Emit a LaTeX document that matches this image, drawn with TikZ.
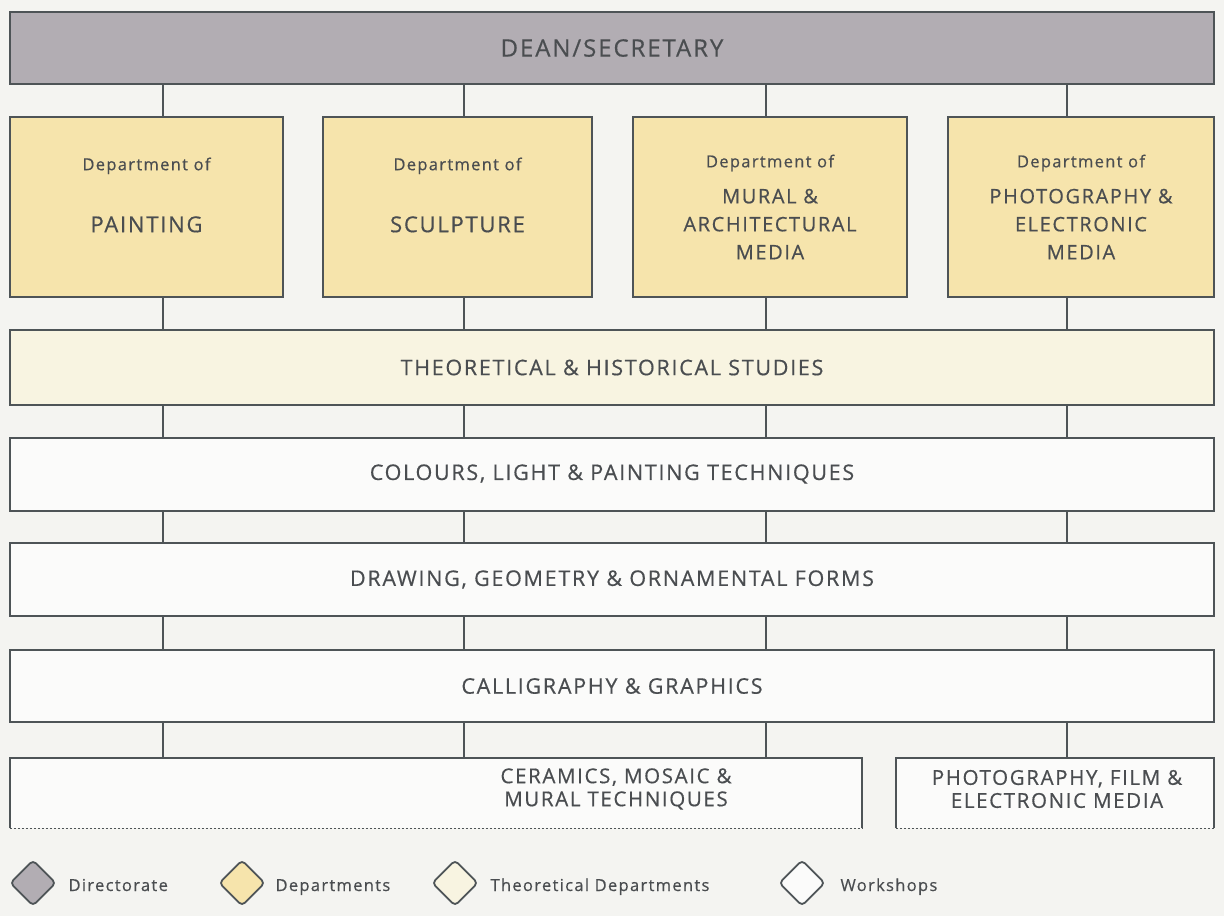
\documentclass[tikz,border=0pt]{standalone}
\usepackage{fontspec}
\setmainfont{Open Sans}[LetterSpace=8, FakeBold=0.5]
\usetikzlibrary{shapes.geometric}

\definecolor{paper}{HTML}{F4F4F1}
\definecolor{edge}{HTML}{4E5457}
\definecolor{ink}{HTML}{4A4D50}
\definecolor{deanfill}{HTML}{B2ADB3}
\definecolor{deptfill}{HTML}{F6E4AC}
\definecolor{theofill}{HTML}{F8F4E1}
\definecolor{shopfill}{HTML}{FBFBFA}

\newcommand{\ofsize}{\fontsize{16.5}{20}\selectfont}

\tikzset{
    box/.style={draw=edge, line width=2pt, rectangle, inner sep=0pt, text=ink,
        font=\fontsize{21.5}{25}\selectfont, align=center},
    dean/.style={box, fill=deanfill, minimum width=1204pt, minimum height=72pt,
        font=\fontsize{24}{28}\selectfont},
    dept/.style={box, fill=deptfill, minimum height=180pt},
    theory/.style={box, fill=theofill, minimum width=1204pt, minimum height=75pt},
    shop/.style={box, fill=shopfill, minimum width=1204pt, minimum height=73pt},
    stub/.style={rectangle, inner sep=0pt, fill=shopfill},
    deptname/.style={text=ink, align=center, inner sep=0pt, font=\fontsize{22}{26}\selectfont},
    link/.style={draw=edge, line width=1.8pt},
    key/.style={diamond, draw=edge, line width=1.8pt, rounded corners=4pt,
        minimum width=46pt, minimum height=46pt, inner sep=0pt},
    keytext/.style={anchor=base west, text=ink, font=\fontsize{16.5}{19}\selectfont}
}

\begin{document}
\begin{tikzpicture}[x=1pt, y=-1pt]
    \fill[paper] (0,0) rectangle (1224,916);

    \node[dean] (dean) at (612,48) {DEAN/SECRETARY};

    \node[dept, minimum width=273pt] (paint) at (146.5,207) {};
    \node[dept, minimum width=269pt] (sculpt) at (457.5,207) {};
    \node[dept, minimum width=274pt] (mural) at (770,207) {};
    \node[dept, minimum width=266pt] (photo) at (1081,207) {};
    \node[deptname] (paintname) at ([yshift=12pt]paint.center)
        {{\ofsize Department of}\\[36pt]PAINTING};
    \node[deptname] (sculptname) at ([yshift=12pt]sculpt.center)
        {{\ofsize Department of}\\[36pt]SCULPTURE};
    \node[deptname, font=\fontsize{20}{28}\selectfont] (muralname) at (mural.center)
        {{\ofsize Department of}\\[8pt]MURAL \&\\ARCHITECTURAL\\MEDIA};
    \node[deptname, font=\fontsize{20}{28}\selectfont] (photoname) at (photo.center)
        {{\ofsize Department of}\\[8pt]PHOTOGRAPHY \&\\ELECTRONIC\\MEDIA};

    \node[theory] (theo) at (612,367.5) {THEORETICAL \& HISTORICAL STUDIES};
    \node[shop] (colour) at (612,474) {COLOURS, LIGHT \& PAINTING TECHNIQUES};
    \node[shop] (drawing) at (612,579.5) {DRAWING, GEOMETRY \& ORNAMENTAL FORMS};
    \node[shop, minimum height=72pt] (calli) at (612,686) {CALLIGRAPHY \& GRAPHICS};

    % open boxes at the foot
    \node[stub, minimum width=852pt, minimum height=70pt] (ceram) at (436,793) {};
    \node[stub, minimum width=318pt, minimum height=70pt] (film) at (1055,793) {};
    \draw[link, line width=2pt] (ceram.south west) -- (ceram.north west) -- (ceram.north east) -- (ceram.south east);
    \draw[link, line width=2pt] (film.south west) -- (film.north west) -- (film.north east) -- (film.south east);
    \draw[edge, line width=1pt, dash pattern=on 2pt off 2pt] (ceram.south west) -- (ceram.south east);
    \draw[edge, line width=1pt, dash pattern=on 2pt off 2pt] (film.south west) -- (film.south east);
    \node[deptname, font=\fontsize{20.5}{23}\selectfont] (ceramname) at (616,789)
        {CERAMICS, MOSAIC \&\\MURAL TECHNIQUES};
    \node[deptname, font=\fontsize{20.5}{23}\selectfont] (filmname) at (1057,789)
        {PHOTOGRAPHY, FILM \&\\ELECTRONIC MEDIA};

    % vertical links
    \coordinate (c1) at (163,0);
    \coordinate (c2) at (464,0);
    \coordinate (c3) at (766,0);
    \coordinate (c4) at (1067,0);
    \draw[link] (dean.south -| c1) -- (paint.north -| c1);
    \draw[link] (dean.south -| c2) -- (sculpt.north -| c2);
    \draw[link] (dean.south -| c3) -- (mural.north -| c3);
    \draw[link] (dean.south -| c4) -- (photo.north -| c4);
    \draw[link] (paint.south -| c1) -- (theo.north -| c1);
    \draw[link] (sculpt.south -| c2) -- (theo.north -| c2);
    \draw[link] (mural.south -| c3) -- (theo.north -| c3);
    \draw[link] (photo.south -| c4) -- (theo.north -| c4);
    \foreach \c in {c1,c2,c3,c4} {
        \draw[link] (theo.south -| \c) -- (colour.north -| \c);
        \draw[link] (colour.south -| \c) -- (drawing.north -| \c);
        \draw[link] (drawing.south -| \c) -- (calli.north -| \c);
    }
    \draw[link] (calli.south -| c1) -- (ceram.north -| c1);
    \draw[link] (calli.south -| c2) -- (ceram.north -| c2);
    \draw[link] (calli.south -| c3) -- (ceram.north -| c3);
    \draw[link] (calli.south -| c4) -- (film.north -| c4);

    % legend
    \node[key, fill=deanfill] (k1) at (33,883) {};
    \node[keytext] (t1) at (65,891) {Directorate};
    \node[key, fill=deptfill] (k2) at (242,883) {};
    \node[keytext] (t2) at (272,891) {Departments};
    \node[key, fill=theofill] (k3) at (455,883) {};
    \node[keytext] (t3) at (487,891) {Theoretical Departments};
    \node[key, fill=shopfill] (k4) at (802,883) {};
    \node[keytext] (t4) at (837,891) {Workshops};
\end{tikzpicture}
\end{document}
